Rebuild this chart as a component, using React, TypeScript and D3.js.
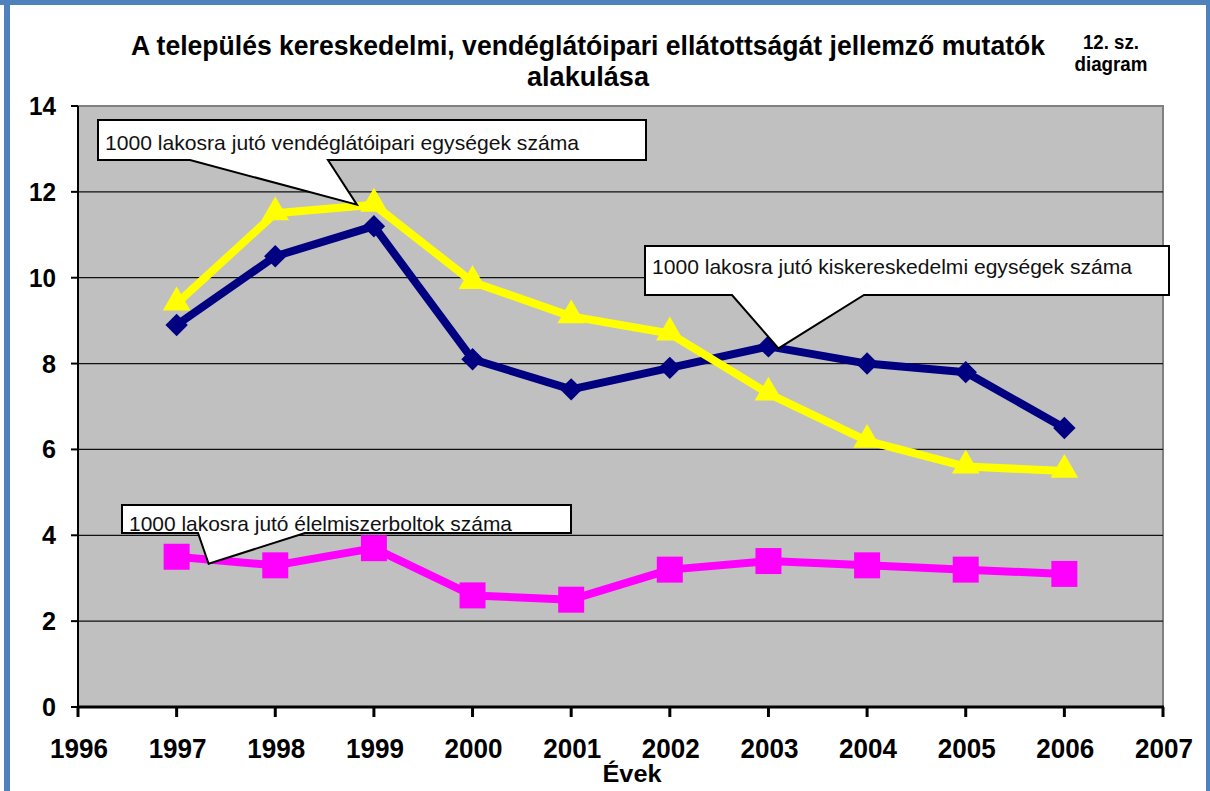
import { useEffect, useRef } from "react";
import * as d3 from "d3";

const years = [1997, 1998, 1999, 2000, 2001, 2002, 2003, 2004, 2005, 2006];
const kiskereskedelmi = [8.9, 10.5, 11.2, 8.1, 7.4, 7.9, 8.4, 8.0, 7.8, 6.5];
const vendeglatoipari = [9.4, 11.5, 11.7, 9.9, 9.1, 8.7, 7.3, 6.2, 5.6, 5.5];
const elelmiszerboltok = [3.5, 3.3, 3.7, 2.6, 2.5, 3.2, 3.4, 3.3, 3.2, 3.1];
const xTicks = [1996, 1997, 1998, 1999, 2000, 2001, 2002, 2003, 2004, 2005, 2006, 2007];
const yTicks = [0, 2, 4, 6, 8, 10, 12, 14];

const titleLines = [
  "A település kereskedelmi, vendéglátóipari ellátottságát jellemző mutatók",
  "alakulása",
];

export default function App() {
  const svgRef = useRef<SVGSVGElement>(null);

  useEffect(() => {
    const width = 1210;
    const height = 791;
    const svg = d3.select(svgRef.current);
    svg.selectAll("*").remove();

    const x = d3.scaleLinear().domain([1996, 2007]).range([78, 1163]);
    const y = d3.scaleLinear().domain([0, 14]).range([707, 106]);
    const font = "'Liberation Sans', Arial, sans-serif";

    // page background + blue frame
    svg.append("rect").attr("width", width).attr("height", height).attr("fill", "#fff");
    svg.append("rect").attr("x", 0).attr("y", 0).attr("width", width).attr("height", 5).attr("fill", "#4f81bd");
    svg.append("rect").attr("x", 4).attr("y", 0).attr("width", 6).attr("height", height).attr("fill", "#4f81bd");
    svg.append("rect").attr("x", 1206).attr("y", 0).attr("width", 4).attr("height", height).attr("fill", "#4f81bd");

    // title
    svg
      .append("g")
      .selectAll("text")
      .data(titleLines)
      .join("text")
      .attr("x", 588)
      .attr("y", (_, i) => 55 + i * 31)
      .attr("text-anchor", "middle")
      .attr("font-family", font)
      .attr("font-weight", "bold")
      .attr("font-size", 27)
      .attr("textLength", (_, i) => (i === 0 ? 914 : 122))
      .attr("lengthAdjust", "spacingAndGlyphs")
      .text((d) => d);

    svg
      .append("g")
      .selectAll("text")
      .data(["12. sz.", "diagram"])
      .join("text")
      .attr("x", 1111)
      .attr("y", (_, i) => 49 + i * 22)
      .attr("text-anchor", "middle")
      .attr("font-family", font)
      .attr("font-weight", "bold")
      .attr("font-size", 20)
      .attr("textLength", (_, i) => (i === 0 ? 56 : 73))
      .attr("lengthAdjust", "spacingAndGlyphs")
      .text((d) => d);

    // plot area
    svg
      .append("rect")
      .attr("x", x(1996))
      .attr("y", y(14))
      .attr("width", x(2007) - x(1996))
      .attr("height", y(0) - y(14))
      .attr("fill", "#c0c0c0")
      .attr("stroke", "#808080")
      .attr("stroke-width", 2);

    // gridlines
    svg
      .append("g")
      .selectAll("line")
      .data(yTicks.filter((d) => d > 0 && d < 14))
      .join("line")
      .attr("x1", x(1996))
      .attr("x2", x(2007))
      .attr("y1", (d) => y(d))
      .attr("y2", (d) => y(d))
      .attr("stroke", "#111")
      .attr("stroke-width", 1.3);

    // y axis
    const yAxis = svg.append("g");
    yAxis
      .append("line")
      .attr("x1", x(1996))
      .attr("x2", x(1996))
      .attr("y1", y(14))
      .attr("y2", y(0))
      .attr("stroke", "#000")
      .attr("stroke-width", 2);
    yAxis
      .selectAll("line.tick")
      .data(yTicks)
      .join("line")
      .attr("class", "tick")
      .attr("x1", x(1996) - 7)
      .attr("x2", x(1996))
      .attr("y1", (d) => y(d))
      .attr("y2", (d) => y(d))
      .attr("stroke", "#000")
      .attr("stroke-width", 2);
    yAxis
      .selectAll("text")
      .data(yTicks)
      .join("text")
      .attr("x", 56)
      .attr("y", (d) => y(d) + 9)
      .attr("text-anchor", "end")
      .attr("font-family", font)
      .attr("font-weight", "bold")
      .attr("font-size", 25)
      .attr("textLength", (d) => (d >= 10 ? 27 : 14))
      .attr("lengthAdjust", "spacingAndGlyphs")
      .text((d) => d);

    // x axis
    const xAxis = svg.append("g");
    xAxis
      .append("line")
      .attr("x1", x(1996) - 1)
      .attr("x2", x(2007) + 1)
      .attr("y1", y(0))
      .attr("y2", y(0))
      .attr("stroke", "#000")
      .attr("stroke-width", 3);
    xAxis
      .selectAll("line.tick")
      .data(xTicks)
      .join("line")
      .attr("class", "tick")
      .attr("x1", (d) => x(d))
      .attr("x2", (d) => x(d))
      .attr("y1", y(0))
      .attr("y2", y(0) + 10)
      .attr("stroke", "#000")
      .attr("stroke-width", 3);
    xAxis
      .selectAll("text")
      .data(xTicks)
      .join("text")
      .attr("x", (d) => x(d) + 1)
      .attr("y", 758)
      .attr("text-anchor", "middle")
      .attr("font-family", font)
      .attr("font-weight", "bold")
      .attr("font-size", 28)
      .attr("textLength", 58)
      .attr("lengthAdjust", "spacingAndGlyphs")
      .text((d) => d);
    svg
      .append("text")
      .attr("x", 632)
      .attr("y", 782)
      .attr("text-anchor", "middle")
      .attr("font-family", font)
      .attr("font-weight", "bold")
      .attr("font-size", 24)
      .attr("textLength", 59)
      .attr("lengthAdjust", "spacingAndGlyphs")
      .text("Évek");

    const line = d3
      .line<number>()
      .x((_, i) => x(years[i]))
      .y((d) => y(d));

    // blue series - diamonds
    const gBlue = svg.append("g");
    gBlue
      .append("path")
      .attr("d", line(kiskereskedelmi))
      .attr("fill", "none")
      .attr("stroke", "#000080")
      .attr("stroke-width", 8)
      .attr("stroke-linejoin", "round");
    gBlue
      .selectAll("path.m")
      .data(kiskereskedelmi)
      .join("path")
      .attr("class", "m")
      .attr("d", d3.symbol(d3.symbolDiamond2, 320)())
      .attr("transform", (d, i) => `translate(${x(years[i])},${y(d)})`)
      .attr("fill", "#000080");

    // magenta series - squares
    const gMag = svg.append("g");
    gMag
      .append("path")
      .attr("d", line(elelmiszerboltok))
      .attr("fill", "none")
      .attr("stroke", "#ff00ff")
      .attr("stroke-width", 8)
      .attr("stroke-linejoin", "round");
    gMag
      .selectAll("rect")
      .data(elelmiszerboltok)
      .join("rect")
      .attr("x", (_, i) => x(years[i]) - 13)
      .attr("y", (d) => y(d) - 13)
      .attr("width", 26)
      .attr("height", 26)
      .attr("fill", "#ff00ff");

    // yellow series - triangles
    const gYel = svg.append("g");
    gYel
      .append("path")
      .attr("d", line(vendeglatoipari))
      .attr("fill", "none")
      .attr("stroke", "#ffff00")
      .attr("stroke-width", 8)
      .attr("stroke-linejoin", "round");
    gYel
      .selectAll("path.m")
      .data(vendeglatoipari)
      .join("path")
      .attr("class", "m")
      .attr("d", d3.symbol(d3.symbolTriangle, 330)())
      .attr("transform", (d, i) => `translate(${x(years[i])},${y(d) - 1})`)
      .attr("fill", "#ffff00");

    // callouts
    type Callout = {
      text: string;
      box: [number, number, number, number];
      base: [number, number];
      tip: [number, number];
      textY: number;
      textW: number;
    };
    const callouts: Callout[] = [
      {
        text: "1000 lakosra jutó vendéglátóipari egységek száma",
        box: [98, 120, 548, 40],
        base: [190, 328],
        tip: [x(1999) - 17, y(11.7)],
        textY: 150,
        textW: 474,
      },
      {
        text: "1000 lakosra jutó kiskereskedelmi egységek száma",
        box: [645, 246, 524, 49],
        base: [732, 864],
        tip: [x(2003) + 10, y(8.4) + 2],
        textY: 274,
        textW: 480,
      },
      {
        text: "1000 lakosra jutó élelmiszerboltok száma",
        box: [122, 505, 449, 28],
        base: [198, 305],
        tip: [x(1997) + 32, y(3.5) + 7],
        textY: 531,
        textW: 383,
      },
    ];

    const gC = svg.append("g");
    callouts.forEach((c) => {
      const [bx, by, bw, bh] = c.box;
      const bottom = by + bh;
      const pts: [number, number][] = [
        [bx, by],
        [bx + bw, by],
        [bx + bw, bottom],
        [c.base[1], bottom],
        c.tip,
        [c.base[0], bottom],
        [bx, bottom],
      ];
      gC
        .append("path")
        .attr("d", "M" + pts.map((p) => p.join(",")).join("L") + "Z")
        .attr("fill", "#fff")
        .attr("stroke", "#000")
        .attr("stroke-width", 2)
        .attr("stroke-linejoin", "miter");
      gC
        .append("text")
        .attr("x", bx + 7)
        .attr("y", c.textY)
        .attr("font-family", font)
        .attr("font-size", 21)
        .attr("textLength", c.textW)
        .attr("lengthAdjust", "spacingAndGlyphs")
        .attr("fill", "#111")
        .text(c.text);
    });
  }, []);

  return (
    <div style={{ position: "absolute", left: 0, top: 0 }}>
      <svg ref={svgRef} width={1210} height={791}></svg>
    </div>
  );
}
